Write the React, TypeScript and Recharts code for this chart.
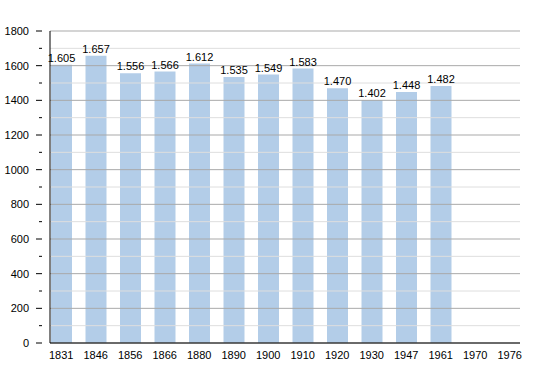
import { BarChart, Bar, XAxis, YAxis, ReferenceLine, LabelList } from 'recharts'

const years = ['1831', '1846', '1856', '1866', '1880', '1890', '1900', '1910', '1920', '1930', '1947', '1961', '1970', '1976']
const population: (number | null)[] = [1605, 1657, 1556, 1566, 1612, 1535, 1549, 1583, 1470, 1402, 1448, 1482, null, null]
const yTicks = [0, 100, 200, 300, 400, 500, 600, 700, 800, 900, 1000, 1100, 1200, 1300, 1400, 1500, 1600, 1700, 1800]

const FONT = '"Liberation Sans", Arial, Helvetica, sans-serif'

const data = years.map((year, i) => ({ year, value: population[i] }))

function formatValue(v: unknown) {
  if (v == null) return ''
  return String(v).replace(/\B(?=(\d{3})+(?!\d))/g, '.')
}

function YTick(props: any) {
  const { x, y, payload } = props
  const major = payload.value % 200 === 0
  return (
    <g>
      <line x1={x - (major ? 6 : 3)} x2={x} y1={y} y2={y} stroke="#000" strokeWidth={1} />
      {major && (
        <text x={x - 13} y={y} dy={4} textAnchor="end" fontSize={11} fill="#000" fontFamily={FONT}>
          {payload.value}
        </text>
      )}
    </g>
  )
}

export default function App() {
  return (
    <div style={{ position: 'absolute', left: 0, top: 0, background: '#fff' }}>
      <BarChart width={550} height={373} data={data} margin={{ top: 31, right: 30, bottom: 0, left: 0 }}>
        {yTicks.map((t) => (
          <ReferenceLine
            key={t}
            y={t}
            stroke={t % 200 === 0 ? '#a9a9a9' : '#dedede'}
            strokeWidth={1}
          />
        ))}
        <XAxis
          dataKey="year"
          height={30}
          padding={{ left: -6, right: -7 }}
          axisLine={{ stroke: '#000' }}
          tickLine={false}
          tick={{ fontSize: 11, fill: '#000', fontFamily: FONT }}
          interval={0}
          tickMargin={2}
        />
        <YAxis
          width={50}
          domain={[0, 1800]}
          ticks={yTicks}
          interval={0}
          axisLine={{ stroke: '#000' }}
          tickLine={false}
          tick={<YTick />}
        />
        <Bar dataKey="value" fill="#b3cde8" barSize={21} isAnimationActive={false}>
          <LabelList
            dataKey="value"
            position="top"
            offset={3}
            formatter={formatValue}
            style={{ fontSize: 11, fill: '#000', fontFamily: FONT }}
          />
        </Bar>
      </BarChart>
    </div>
  )
}
